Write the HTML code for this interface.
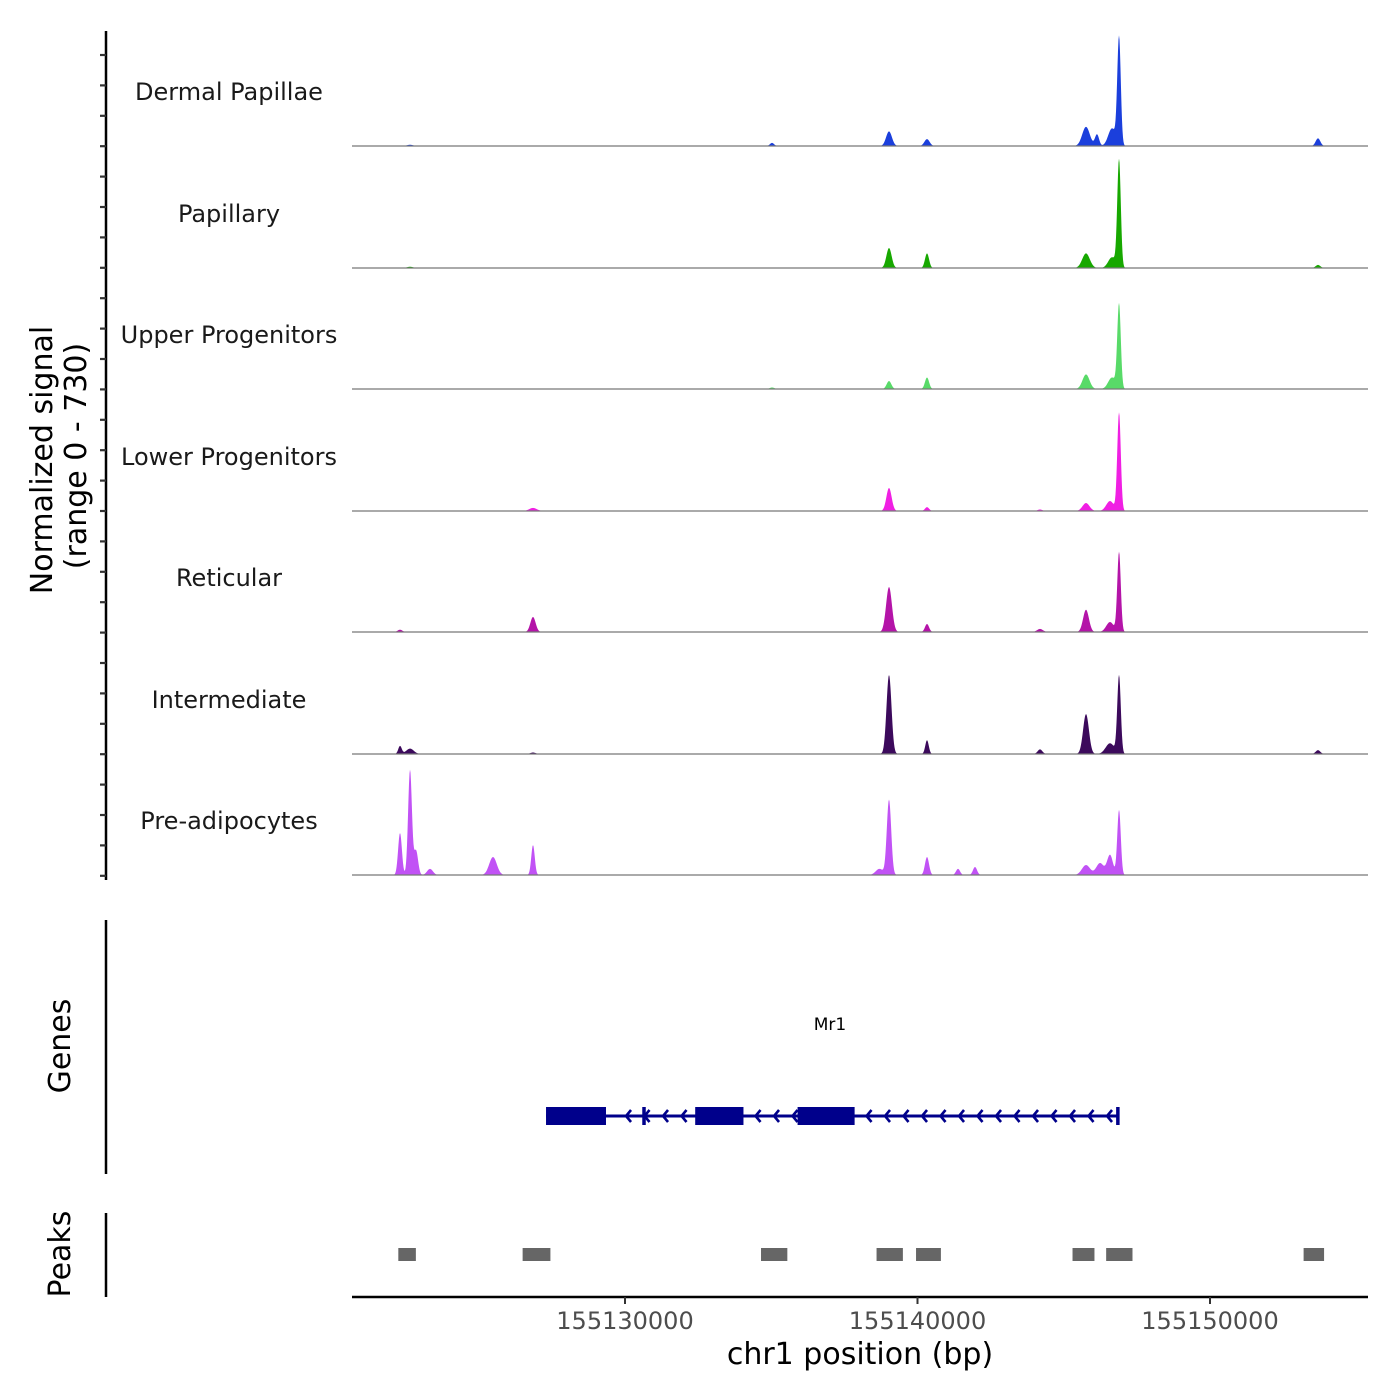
<!DOCTYPE html>
<html><head><meta charset="utf-8"><style>
html,body{margin:0;padding:0;background:#fff;}
svg{display:block;font-family:"DejaVu Sans","Liberation Sans",sans-serif;}
</style></head><body>
<svg id="chart" width="1400" height="1400" viewBox="0 0 1400 1400" xmlns="http://www.w3.org/2000/svg">
<g id="tracks"></g>
<g id="axes">
  <line x1="106" y1="31" x2="106" y2="880" stroke="#000" stroke-width="2.5"/>
  <g id="yticks"></g>
  <text transform="translate(52,460) rotate(-90)" text-anchor="middle" font-size="30">Normalized signal</text>
  <text transform="translate(86,456) rotate(-90)" text-anchor="middle" font-size="30">(range 0 - 730)</text>
  <line x1="106" y1="920" x2="106" y2="1174" stroke="#000" stroke-width="2.5"/>
  <text transform="translate(70,1046) rotate(-90)" text-anchor="middle" font-size="30">Genes</text>
  <line x1="106" y1="1213" x2="106" y2="1297" stroke="#000" stroke-width="2.5"/>
  <text transform="translate(70,1254) rotate(-90)" text-anchor="middle" font-size="30">Peaks</text>
  <line x1="352" y1="1297" x2="1368" y2="1297" stroke="#000" stroke-width="2.5"/>
  <g id="xticks"></g>
  <text x="860" y="1364" text-anchor="middle" font-size="30">chr1 position (bp)</text>
</g>
<g id="genes">
  <text x="830" y="1030" text-anchor="middle" font-size="17">Mr1</text>
</g>
<g id="peaks"></g>
</svg>
<script>
const NS = 'http://www.w3.org/2000/svg';
const trackNames = ['Dermal Papillae','Papillary','Upper Progenitors','Lower Progenitors','Reticular','Intermediate','Pre-adipocytes'];
const trackColors = ['#1b3fdc','#17a800','#58da68','#f01fe3','#b414a8','#3c0a5c','#c152f5'];
// peak centres (bp), heights (signal), widths (sigma bp) per track
const dpPos = [155146890,155145761,155146137,155146650,155139026,155140325,155153692,155135026,155122650];
const dpVal = [700,125,75,115,95,45,50,20,8];
const dpSig = [60,130,70,130,100,90,80,70,100];
const paPos = [155146890,155145761,155146650,155139026,155140325,155153692,155122650];
const paVal = [700,95,70,130,95,20,8];
const paSig = [60,130,130,90,70,80,100];
const upPos = [155146890,155145761,155146650,155139026,155140325,155135026];
const upVal = [548,95,75,52,75,10];
const upSig = [60,120,130,80,70,80];
const loPos = [155146890,155145761,155146582,155139026,155140325,155126855,155144188];
const loVal = [640,52,65,150,25,20,10];
const loSig = [60,120,130,90,70,130,80];
const rePos = [155146890,155145761,155146582,155139026,155140325,155126855,155144188,155122308];
const reVal = [520,145,65,293,52,98,20,15];
const reSig = [60,100,130,100,70,90,100,80];
const inPos = [155146890,155145761,155146582,155139026,155140325,155122308,155122650,155144188,155153692,155126855];
const inVal = [508,260,70,515,90,52,35,30,25,10];
const inSig = [60,100,150,85,60,60,130,80,80,90];
const prPos = [155122650,155122308,155122855,155123333,155125487,155126855,155139026,155146890,155140325,155145761,155146240,155146582,155141966,155141385,155138700];
const prVal = [685,274,160,40,117,195,490,424,117,65,78,130,52,40,40];
const prSig = [65,65,70,100,130,60,75,60,70,140,130,100,70,70,130];
const trackPos = [dpPos,paPos,upPos,loPos,rePos,inPos,prPos];
const trackVal = [dpVal,paVal,upVal,loVal,reVal,inVal,prVal];
const trackSig = [dpSig,paSig,upSig,loSig,reSig,inSig,prSig];
const xTickVals = [155130000,155140000,155150000];
const xTickLabels = ['155130000','155140000','155150000'];
const yMax = 730;
const geneStart = 155127300, geneEnd = 155146880;
const exonStarts = [155127300,155132400,155135900];
const exonEnds = [155129350,155134050,155137850];
const geneMarks = [155130650,155146850];
const peakStarts = [155122250,155126500,155134650,155138600,155139950,155145300,155146450,155153200];
const peakEnds = [155122850,155127450,155135550,155139500,155140800,155146050,155147350,155153900];

const xs = bp => 625 + (bp - 155130000) * 0.02925;
const bpFromX = px => 155130000 + (px - 625) / 0.02925;
const baselines = [146,268,389,511,632,754,875];
const ys = (v, b) => b - v / yMax * 112;

const tracks = document.getElementById('tracks');
trackNames.forEach((name, i) => {
  const b = baselines[i];
  const g = document.createElementNS(NS, 'g');
  
  
  const P = trackPos[i], V = trackVal[i], S = trackSig[i];
  let d = 'M352,' + b;
  for (let px = 352; px <= 1368; px += 0.5) {
    const bp = bpFromX(px);
    let v = 0;
    for (let k = 0; k < P.length; k++) {
      const z = (bp - P[k]) / S[k];
      if (Math.abs(z) < 6) v += V[k] * Math.exp(-0.5 * z * z);
    }
    d += ' L' + px.toFixed(1) + ',' + ys(v, b).toFixed(2);
  }
  d += ' L1368,' + b + ' Z';
  const area = document.createElementNS(NS, 'path');
  
  
  area.setAttribute('d', d);
  area.setAttribute('fill', trackColors[i]);
  g.appendChild(area);
  const base = document.createElementNS(NS, 'line');
  
  
  base.setAttribute('x1', 352); base.setAttribute('x2', 1368);
  base.setAttribute('y1', b); base.setAttribute('y2', b);
  base.setAttribute('stroke', '#777'); base.setAttribute('stroke-width', '1.2');
  g.appendChild(base);
  const t = document.createElementNS(NS, 'text');
  
  
  t.setAttribute('x', 229); t.setAttribute('y', b - 46);
  t.setAttribute('text-anchor', 'middle'); t.setAttribute('font-size', '24');
  t.setAttribute('fill', '#1a1a1a');
  t.textContent = name;
  g.appendChild(t);
  tracks.appendChild(g);
});

const yt = document.getElementById('yticks');
for (let y = 55; y <= 880; y += 30.4) {
  const l = document.createElementNS(NS, 'line');
  
  
  l.setAttribute('x1', 100); l.setAttribute('x2', 106);
  l.setAttribute('y1', y); l.setAttribute('y2', y);
  l.setAttribute('stroke', '#333'); l.setAttribute('stroke-width', '2.2');
  yt.appendChild(l);
}

const xt = document.getElementById('xticks');
xTickVals.forEach((v, i) => {
  const l = document.createElementNS(NS, 'line');
  
  
  l.setAttribute('x1', xs(v)); l.setAttribute('x2', xs(v));
  l.setAttribute('y1', 1297); l.setAttribute('y2', 1304);
  l.setAttribute('stroke', '#333'); l.setAttribute('stroke-width', '2');
  xt.appendChild(l);
  const t = document.createElementNS(NS, 'text');
  
  
  t.setAttribute('x', xs(v)); t.setAttribute('y', 1329);
  t.setAttribute('text-anchor', 'middle'); t.setAttribute('font-size', '24');
  t.setAttribute('fill', '#4d4d4d');
  t.textContent = xTickLabels[i];
  xt.appendChild(t);
});

const genes = document.getElementById('genes');
const gy = 1116, col = '#00008b';
const intron = document.createElementNS(NS, 'line');


intron.setAttribute('x1', xs(geneStart)); intron.setAttribute('x2', xs(geneEnd));
intron.setAttribute('y1', gy); intron.setAttribute('y2', gy);
intron.setAttribute('stroke', col); intron.setAttribute('stroke-width', '3');
genes.appendChild(intron);
for (let px = xs(geneStart) + 80; px < xs(geneEnd) - 5; px += 18.5) {
  const a = document.createElementNS(NS, 'path');
  
  
  a.setAttribute('d', `M${px + 5},${gy - 6} L${px},${gy} L${px + 5},${gy + 6}`);
  a.setAttribute('stroke', col); a.setAttribute('stroke-width', '2.6'); a.setAttribute('fill', 'none');
  genes.appendChild(a);
}
exonStarts.forEach((s, i) => {
  const r = document.createElementNS(NS, 'rect');
  
  
  r.setAttribute('x', xs(s)); r.setAttribute('width', xs(exonEnds[i]) - xs(s));
  r.setAttribute('y', gy - 9); r.setAttribute('height', 18);
  r.setAttribute('fill', col);
  genes.appendChild(r);
});
geneMarks.forEach(m => {
  const l = document.createElementNS(NS, 'line');
  
  
  l.setAttribute('x1', xs(m)); l.setAttribute('x2', xs(m));
  l.setAttribute('y1', gy - 9); l.setAttribute('y2', gy + 9);
  l.setAttribute('stroke', col); l.setAttribute('stroke-width', '3.5');
  genes.appendChild(l);
});

const peaks = document.getElementById('peaks');
peakStarts.forEach((s, i) => {
  const r = document.createElementNS(NS, 'rect');
  
  
  r.setAttribute('x', xs(s)); r.setAttribute('width', xs(peakEnds[i]) - xs(s));
  r.setAttribute('y', 1248); r.setAttribute('height', 13);
  r.setAttribute('fill', '#666');
  peaks.appendChild(r);
});
</script>
</body></html>
